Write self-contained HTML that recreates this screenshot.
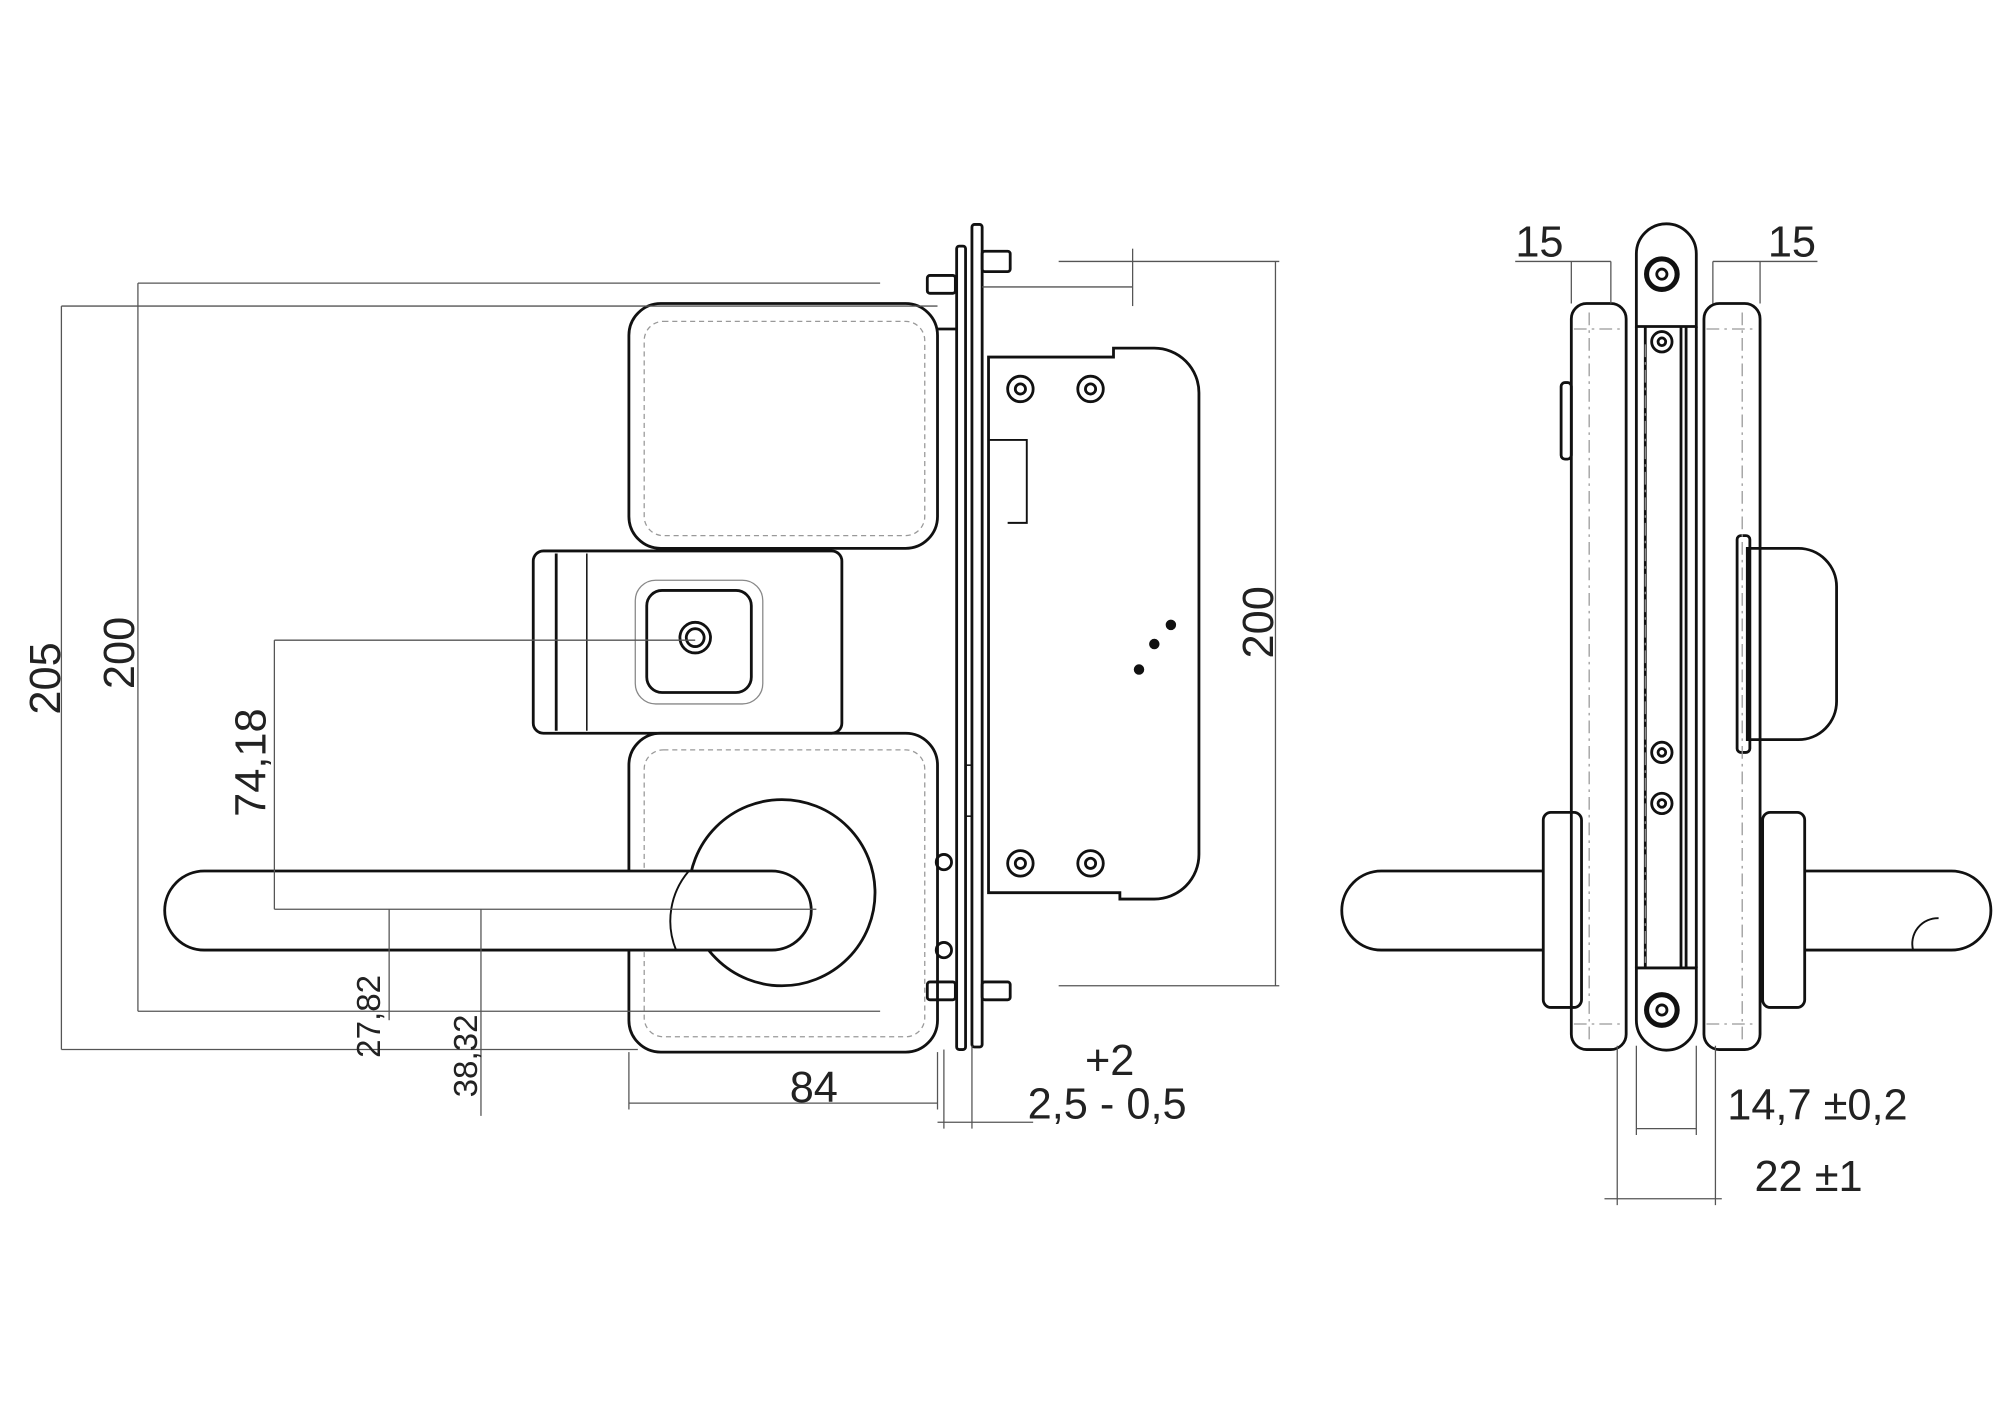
<!DOCTYPE html>
<html><head><meta charset="utf-8"><style>
html,body{margin:0;padding:0;background:#fff;width:2000px;height:1413px;overflow:hidden}
svg{display:block}
text{font-family:"Liberation Sans",sans-serif;fill:#222}
</style></head><body>
<svg width="2000" height="1413" viewBox="0 0 1568 1108" xmlns="http://www.w3.org/2000/svg">
<g fill="none" stroke="#111" stroke-width="2.2">
<!-- LEFT VIEW -->
<rect x="493" y="238" width="242" height="192" rx="25"/>
<rect x="505" y="252" width="220" height="168" rx="15" stroke="#999" stroke-width="1" stroke-dasharray="4 3"/>
<rect x="418" y="432" width="242" height="143" rx="8"/>
<line x1="436" y1="434" x2="436" y2="573"/><line x1="460" y1="434" x2="460" y2="573" stroke-width="1.2"/>
<rect x="498" y="455" width="100" height="97" rx="16" stroke="#888" stroke-width="1"/>
<rect x="507" y="463" width="82" height="80" rx="12"/>
<circle cx="545" cy="500" r="12"/><circle cx="545" cy="500" r="7"/>
<rect x="493" y="575" width="242" height="250" rx="25"/>
<rect x="505" y="588" width="220" height="225" rx="15" stroke="#999" stroke-width="1" stroke-dasharray="4 3"/>
<circle cx="613" cy="700" r="73"/>
<path d="M160,683 H605 A31,31 0 0 1 605,745 H160 A31,31 0 0 1 160,683 Z" fill="#fff"/>
<path d="M540,683 A60,60 0 0 0 530,745" stroke-width="1.5"/>
<!-- plate -->
<rect x="750" y="193" width="7" height="630" rx="2"/>
<rect x="762" y="176" width="8" height="645" rx="2"/>
<rect x="727" y="216" width="22" height="14" rx="2"/><rect x="770" y="197" width="22" height="16" rx="2"/>
<rect x="727" y="770" width="22" height="14" rx="2"/><rect x="770" y="770" width="22" height="14" rx="2"/>
<line x1="735" y1="258" x2="750" y2="258"/>
<circle cx="740" cy="676" r="6"/><circle cx="740" cy="745" r="6"/>
<rect x="757" y="600" width="5" height="40" stroke-width="1.2"/>
<!-- mortise -->
<path d="M775,280 H873 V273 H905 A35,35 0 0 1 940,308 V670 A35,35 0 0 1 905,705 H878 V700 H775 Z"/>
<path d="M775,345 H805 V410 H790" stroke-width="1.5"/>
<g>
<circle cx="800" cy="305" r="10"/><circle cx="800" cy="305" r="4"/>
<circle cx="855" cy="305" r="10"/><circle cx="855" cy="305" r="4"/>
<circle cx="800" cy="677" r="10"/><circle cx="800" cy="677" r="4"/>
<circle cx="855" cy="677" r="10"/><circle cx="855" cy="677" r="4"/>
</g>
<circle cx="893" cy="525" r="3" fill="#111"/><circle cx="905" cy="505" r="3" fill="#111"/><circle cx="918" cy="490" r="3" fill="#111"/>

<!-- RIGHT VIEW -->
<rect x="1232" y="238" width="43" height="585" rx="12"/>
<rect x="1336" y="238" width="44" height="585" rx="12"/>
<path d="M1283,256 V199 A23.5,23.5 0 0 1 1330,199 V256 Z" fill="#fff"/>
<path d="M1283,759 V800 A23.5,23.5 0 0 0 1330,800 V759 Z" fill="#fff"/>
<line x1="1283" y1="256" x2="1283" y2="759"/><line x1="1330" y1="256" x2="1330" y2="759"/>
<line x1="1290" y1="256" x2="1290" y2="759"/><line x1="1318" y1="256" x2="1318" y2="759"/><line x1="1322" y1="256" x2="1322" y2="759"/>
<path d="M1370,430 H1410 A30,30 0 0 1 1440,460 V550 A30,30 0 0 1 1410,580 H1370 Z"/>
<rect x="1362" y="420" width="10" height="170" rx="3"/>
<rect x="1224" y="300" width="8" height="60" rx="3"/>
<rect x="1210" y="637" width="30" height="153" rx="6"/>
<rect x="1382" y="637" width="33" height="153" rx="6"/>
<path d="M1210,683 H1083 A31,31 0 0 0 1083,745 H1210"/>
<path d="M1415,683 H1530 A31,31 0 0 1 1530,745 H1415"/>
<path d="M1500,745 A20,20 0 0 1 1520,720" stroke-width="1.5"/>
<g>
<circle cx="1303" cy="215" r="12" stroke-width="4"/><circle cx="1303" cy="215" r="4"/>
<circle cx="1303" cy="268" r="8"/><circle cx="1303" cy="268" r="3"/>
<circle cx="1303" cy="590" r="8"/><circle cx="1303" cy="590" r="3"/>
<circle cx="1303" cy="630" r="8"/><circle cx="1303" cy="630" r="3"/>
<circle cx="1303" cy="792" r="12" stroke-width="4"/><circle cx="1303" cy="792" r="4"/>
</g>
</g>
<g fill="none" stroke="#999" stroke-width="1" stroke-dasharray="10 4 2 4">
<line x1="1246" y1="245" x2="1246" y2="818"/>
<line x1="1366" y1="245" x2="1366" y2="818"/>
<line x1="1290" y1="270" x2="1290" y2="755"/>
<line x1="1234" y1="258" x2="1274" y2="258"/><line x1="1338" y1="258" x2="1378" y2="258"/>
<line x1="1234" y1="803" x2="1274" y2="803"/><line x1="1338" y1="803" x2="1378" y2="803"/>
</g>

<!-- dimension lines -->
<g fill="none" stroke="#555" stroke-width="1">
<line x1="108" y1="222" x2="690" y2="222"/>
<line x1="48" y1="240" x2="735" y2="240"/>
<line x1="108" y1="793" x2="690" y2="793"/>
<line x1="48" y1="823" x2="500" y2="823"/>
<line x1="48" y1="240" x2="48" y2="823"/>
<line x1="108" y1="222" x2="108" y2="793"/>
<line x1="215" y1="502" x2="545" y2="502"/>
<line x1="215" y1="713" x2="640" y2="713"/>
<line x1="215" y1="502" x2="215" y2="713"/>
<line x1="305" y1="713" x2="305" y2="800"/>
<line x1="377" y1="713" x2="377" y2="875"/>
<line x1="493" y1="825" x2="493" y2="870"/>
<line x1="735" y1="825" x2="735" y2="870"/>
<line x1="493" y1="865" x2="735" y2="865"/>
<line x1="740" y1="823" x2="740" y2="885"/>
<line x1="762" y1="820" x2="762" y2="885"/>
<line x1="735" y1="880" x2="810" y2="880"/>
<line x1="830" y1="205" x2="1003" y2="205"/>
<line x1="770" y1="225" x2="888" y2="225"/>
<line x1="830" y1="773" x2="1003" y2="773"/>
<line x1="1000" y1="205" x2="1000" y2="773"/>
<line x1="888" y1="195" x2="888" y2="240"/>
<!-- right -->
<line x1="1188" y1="205" x2="1263" y2="205"/>
<line x1="1343" y1="205" x2="1425" y2="205"/>
<line x1="1232" y1="205" x2="1232" y2="238"/>
<line x1="1263" y1="205" x2="1263" y2="238"/>
<line x1="1343" y1="205" x2="1343" y2="238"/>
<line x1="1380" y1="205" x2="1380" y2="238"/>
<line x1="1283" y1="820" x2="1283" y2="890"/>
<line x1="1330" y1="820" x2="1330" y2="890"/>
<line x1="1283" y1="885" x2="1330" y2="885"/>
<line x1="1268" y1="820" x2="1268" y2="945"/>
<line x1="1345" y1="820" x2="1345" y2="945"/>
<line x1="1258" y1="940" x2="1350" y2="940"/>
</g>

<g font-size="34">
<text x="0" y="0" transform="translate(47,532) rotate(-90)" text-anchor="middle">205</text>
<text x="0" y="0" transform="translate(105,512) rotate(-90)" text-anchor="middle">200</text>
<text x="0" y="0" transform="translate(208,598) rotate(-90)" text-anchor="middle">74,18</text>
<text x="0" y="0" transform="translate(998,488) rotate(-90)" text-anchor="middle">200</text>
<text x="638" y="864" text-anchor="middle">84</text>
<text x="870" y="843" text-anchor="middle">+2</text>
<text x="868" y="877" text-anchor="middle">2,5 - 0,5</text>
<text x="1207" y="201" text-anchor="middle">15</text>
<text x="1405" y="201" text-anchor="middle">15</text>
<text x="1425" y="878" text-anchor="middle">14,7 ±0,2</text>
<text x="1418" y="934" text-anchor="middle">22 ±1</text>
</g>
<g font-size="26">
<text x="0" y="0" transform="translate(298,797) rotate(-90)" text-anchor="middle">27,82</text>
<text x="0" y="0" transform="translate(374,828) rotate(-90)" text-anchor="middle">38,32</text>
</g>
</svg>
</body></html>
